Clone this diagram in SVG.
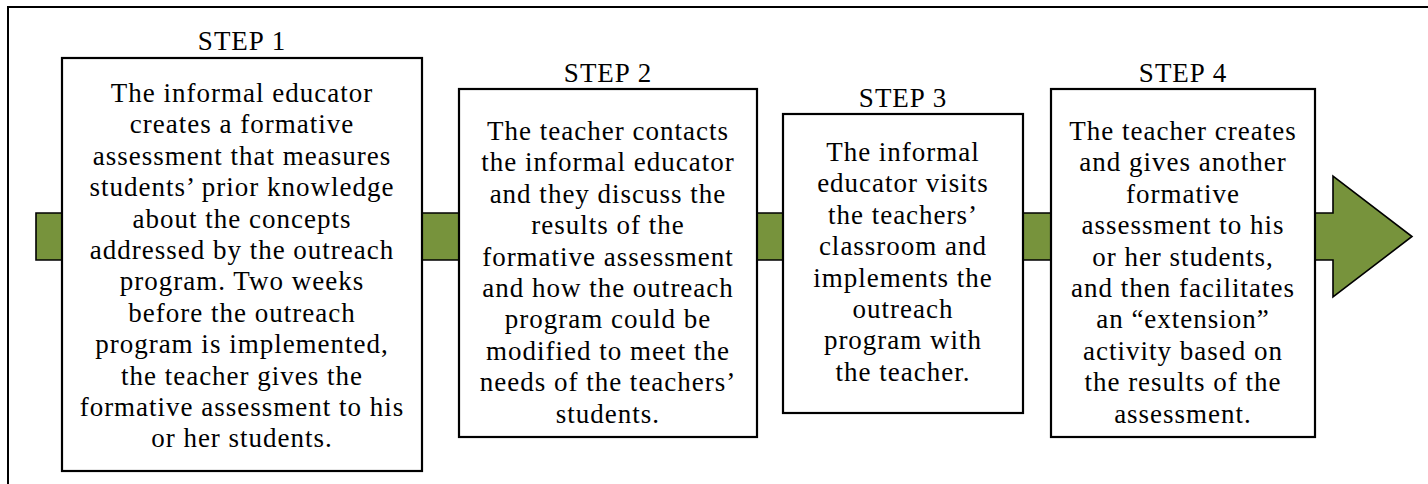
<svg xmlns="http://www.w3.org/2000/svg" width="1428" height="484" viewBox="0 0 1428 484">
<style>
.frame{fill:none;stroke:#000;stroke-width:2}
.box{fill:#fff;stroke:#000;stroke-width:2.2}
.arrow{fill:#77933C;stroke:#000;stroke-width:1.6;stroke-linejoin:miter}
text{font-family:"Liberation Serif","Times New Roman",serif;font-size:27px;fill:#000;text-anchor:middle;letter-spacing:1px}
</style>
<rect width="1428" height="484" fill="#fff"/>
<path class="frame" d="M8,484 V7 H1428"/>
<g id="connectors">
<polygon class="arrow" points="36,213 1333,213 1333,176 1412,236.5 1333,297 1333,260 36,260"/>
</g>
<g id="step1">
<text x="242" y="50">STEP 1</text>
<rect class="box" x="62" y="58" width="360" height="413"/>
<text x="242" y="102">The informal educator</text>
<text x="242" y="133.4">creates a formative</text>
<text x="242" y="164.8">assessment that measures</text>
<text x="242" y="196.2">students’ prior knowledge</text>
<text x="242" y="227.6">about the concepts</text>
<text x="242" y="259">addressed by the outreach</text>
<text x="242" y="290.4">program. Two weeks</text>
<text x="242" y="321.8">before the outreach</text>
<text x="242" y="353.2">program is implemented,</text>
<text x="242" y="384.6">the teacher gives the</text>
<text x="242" y="416">formative assessment to his</text>
<text x="242" y="447.4">or her students.</text>
</g>
<g id="step2">
<text x="608" y="82">STEP 2</text>
<rect class="box" x="459" y="89" width="298" height="348"/>
<text x="608" y="140">The teacher contacts</text>
<text x="608" y="171.4">the informal educator</text>
<text x="608" y="202.8">and they discuss the</text>
<text x="608" y="234.2">results of the</text>
<text x="608" y="265.6">formative assessment</text>
<text x="608" y="297">and how the outreach</text>
<text x="608" y="328.4">program could be</text>
<text x="608" y="359.8">modified to meet the</text>
<text x="608" y="391.2">needs of the teachers’</text>
<text x="608" y="422.6">students.</text>
</g>
<g id="step3">
<text x="903" y="107">STEP 3</text>
<rect class="box" x="783" y="114" width="240" height="299"/>
<text x="903" y="161">The informal</text>
<text x="903" y="192.4">educator visits</text>
<text x="903" y="223.8">the teachers’</text>
<text x="903" y="255.2">classroom and</text>
<text x="903" y="286.6">implements the</text>
<text x="903" y="318">outreach</text>
<text x="903" y="349.4">program with</text>
<text x="903" y="380.8">the teacher.</text>
</g>
<g id="step4">
<text x="1183" y="82">STEP 4</text>
<rect class="box" x="1051" y="89" width="264" height="348"/>
<text x="1183" y="140">The teacher creates</text>
<text x="1183" y="171.4">and gives another</text>
<text x="1183" y="202.8">formative</text>
<text x="1183" y="234.2">assessment to his</text>
<text x="1183" y="265.6">or her students,</text>
<text x="1183" y="297">and then facilitates</text>
<text x="1183" y="328.4">an “extension”</text>
<text x="1183" y="359.8">activity based on</text>
<text x="1183" y="391.2">the results of the</text>
<text x="1183" y="422.6">assessment.</text>
</g>
</svg>
